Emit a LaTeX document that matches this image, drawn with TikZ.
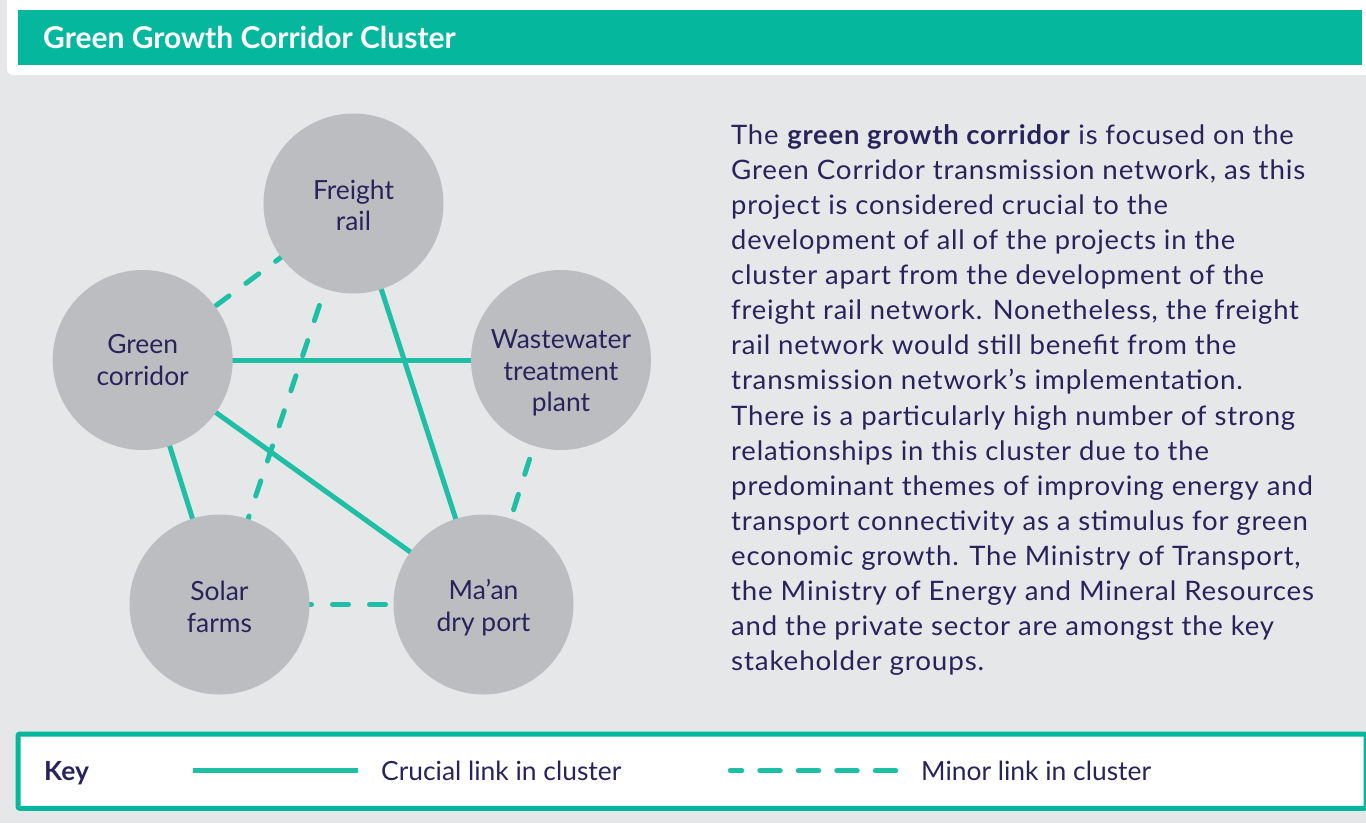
\documentclass[tikz,border=0pt]{standalone}
\usepackage{graphicx}
\usepackage{fontspec}
\setmainfont{Lato}
\newfontfamily\bodyfont[LetterSpace=3]{Lato}
\definecolor{bgc}{HTML}{E6E7E8}
\definecolor{tealbar}{HTML}{05B89D}
\definecolor{linec}{HTML}{1FBFA5}
\definecolor{navy}{HTML}{29235C}
\definecolor{circ}{HTML}{BCBDC0}
\pgfdeclarelayer{bg}
\pgfdeclarelayer{edges}
\pgfsetlayers{bg,edges,main}
\begin{document}
\begin{tikzpicture}[x=1pt,y=-1pt,
  bubble/.style={circle, fill=circ, minimum size=180pt, inner sep=0pt},
  bubbletext/.style={inner sep=0pt, align=center, text=navy, font=\fontsize{26.4}{31.7}\selectfont},
  crucial/.style={draw=linec, line width=5pt},
  minor/.style={draw=linec, line width=5pt, line cap=round, dash pattern=on 16pt off 21pt},
  keycrucial/.style={draw=linec, line width=5.5pt},
  keyminor/.style={draw=linec, line width=5.5pt, line cap=round, dash pattern=on 20pt off 18.5pt},
  keytext/.style={anchor=base west, inner sep=0pt, text=navy, font=\fontsize{26.4}{35}\selectfont},
  body/.style={anchor=base west, inner sep=0pt, text=navy, font=\bodyfont\fontsize{26.8}{35}\selectfont},
]
\useasboundingbox (0,0) rectangle (1366,823);
\begin{pgfonlayer}{bg}
  \fill[bgc] (0,0) rectangle (1366,823);
  \fill[white, rounded corners=6pt] (7,-20) rectangle (1390,75);
\end{pgfonlayer}

% header
\node (hdr) [fill=tealbar, anchor=north west, minimum width=1344.7pt, minimum height=55.3pt, inner sep=0pt] at (17.3,9.7) {};
\node (title) [anchor=base west, inner sep=0pt, text=white, font=\bfseries\fontsize{30}{36}\selectfont] at (43,48) {Green Growth Corridor Cluster};

% circles
\node (fr) [bubble] at (353.5,203.5) {};
\node (gc) [bubble] at (142.7,360) {};
\node (ww) [bubble] at (561,360) {};
\node (sf) [bubble] at (219.5,604.5) {};
\node (md) [bubble] at (483.5,604.5) {};
\node (frt) [bubbletext, yshift=-2pt] at (fr.center) {Freight\\rail};
\node (gct) [bubbletext] at (gc.center) {Green\\corridor};
\node (wwt) [bubbletext, yshift=-13pt] at (ww.center) {Wastewater\\treatment\\plant};
\node (sft) [bubbletext, yshift=-2.5pt] at (sf.center) {Solar\\farms};
\node (mdt) [bubbletext, yshift=-3.5pt] at (md.center) {Ma’an\\dry port};

\begin{pgfonlayer}{edges}
  \draw[crucial] (gc.center) -- (ww.center);
  \draw[crucial] (fr.center) -- (md.center);
  \draw[crucial] (gc.center) -- (md.center);
  \draw[crucial] (gc.center) -- (sf.center);
  \draw[minor, dash phase=30pt] (fr.center) -- (gc.center);
  \draw[minor, dash phase=3.5pt] (fr.center) -- (sf.center);
  \draw[minor, dash phase=7pt] (ww.center) -- (md.center);
  \draw[minor, dash phase=35pt] (sf.center) -- (md.center);
\end{pgfonlayer}

% body text: each line set to the width it has in the reference
\foreach \ex/\ln [count=\i from 0] in {
  1292.7/{The \textbf{green growth corridor} is focused on the},
  1304/{Green Corridor transmission network, as this},
  1166.7/{project is considered crucial to the},
  1234/{development of all of the projects in the},
  1262.7/{cluster apart from the development of the},
  1297.7/{freight rail network. Nonetheless, the freight},
  1235/{rail network would still benefit from the},
  1241.7/{transmission network’s implementation.},
  1294/{There is a particularly high number of strong},
  1207.7/{relationships in this cluster due to the},
  1311.7/{predominant themes of improving energy and},
  1306.7/{transport connectivity as a stimulus for green},
  1299.3/{economic growth. The Ministry of Transport,},
  1312.7/{the Ministry of Energy and Mineral Resources},
  1272.7/{and the private sector are amongst the key},
  983/{stakeholder groups.}}
{
  \pgfmathsetmacro{\tw}{\ex-731+1}
  \node (t\i) [body] at (731,{144+35.13*\i}) {\resizebox{\tw pt}{\height}{\ln}};
}

% key
\node (keybox) [draw=tealbar, line width=5pt, fill=white, rounded corners=2pt, anchor=north west, minimum width=1348pt, minimum height=74.3pt, inner sep=0pt] at (15.5,731.5) {};
\node (keylbl) [anchor=base west, inner sep=0pt, text=navy, font=\bfseries\fontsize{26.4}{32}\selectfont] at (44,780) {Key};
\coordinate (ks1) at (193,770.7);
\coordinate (ks2) at (358,770.7);
\draw[keycrucial] (ks1) -- (ks2);
\node (kc) [keytext] at (381,780) {Crucial link in cluster};
\coordinate (kd1) at (730.5,770.7);
\coordinate (kd2) at (895.5,770.7);
\draw[keyminor] (kd2) -- (kd1);
\node (km) [keytext] at (921,780) {Minor link in cluster};
\end{tikzpicture}
\end{document}
